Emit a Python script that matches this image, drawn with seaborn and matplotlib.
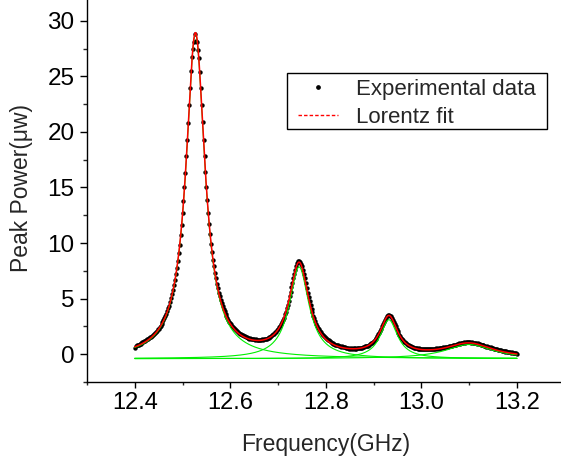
import numpy as np
import matplotlib
matplotlib.use("Agg")
import matplotlib.pyplot as plt
from matplotlib.lines import Line2D
from matplotlib.patches import Rectangle
from matplotlib.ticker import AutoMinorLocator, MultipleLocator
import seaborn as sns

# ---------------- data ----------------
freq_start, freq_stop = 12.4, 13.2          # GHz, sweep range of the measurement

power = [  # Peak Power (uW), experimental points, 0.002 GHz apart
    0.58, 0.72, 0.80, 0.86, 0.82, 0.93, 0.97, 0.95, 1.08, 1.06,
    1.17, 1.20, 1.24, 1.38, 1.36, 1.44, 1.52, 1.56, 1.66, 1.71,
    1.84, 1.90, 2.02, 2.09, 2.24, 2.31, 2.45, 2.58, 2.70, 2.86, 3.04,
    3.22, 3.40, 3.66, 3.85, 4.15, 4.38, 4.72, 5.02, 5.38, 5.80,
    6.20, 6.72, 7.22, 7.80, 8.40, 9.12, 9.86, 10.74, 11.62, 12.70,
    13.78, 15.05, 16.30, 17.80, 19.25, 20.80, 22.42, 23.95, 25.45, 26.75,
    27.45, 28.10, 28.85, 28.20, 28.10, 27.40, 26.65, 25.40, 23.95, 22.40,
    20.85, 19.30, 17.80, 16.42, 15.05, 13.85, 12.74, 11.72, 10.80, 9.95,
    9.20, 8.52, 7.90, 7.32, 6.82, 6.35, 5.94, 5.55, 5.20, 4.88,
    4.58, 4.32, 4.06, 3.85, 3.62, 3.44, 3.25, 3.10, 2.93, 2.80,
    2.68, 2.55, 2.45, 2.33, 2.26, 2.14, 2.09, 1.98, 1.94, 1.85,
    1.80, 1.72, 1.70, 1.63, 1.60, 1.54, 1.53, 1.47, 1.46, 1.41,
    1.42, 1.36, 1.37, 1.33, 1.35, 1.30, 1.33, 1.29, 1.32, 1.30,
    1.31, 1.29, 1.33, 1.30, 1.36, 1.35, 1.41, 1.40, 1.47, 1.48,
    1.56, 1.58, 1.66, 1.70, 1.80, 1.85, 1.97, 2.03, 2.17, 2.26,
    2.42, 2.54, 2.73, 2.88, 3.11, 3.30, 3.58, 3.82, 4.14, 4.44,
    4.80, 5.20, 5.58, 6.02, 6.42, 6.86, 7.25, 7.62, 7.95, 8.18,
    8.36, 8.38, 8.32, 8.16, 7.92, 7.60, 7.24, 6.82, 6.40, 5.97,
    5.55, 5.14, 4.76, 4.40, 4.06, 3.76, 3.47, 3.22, 2.98, 2.76,
    2.58, 2.40, 2.25, 2.08, 1.98, 1.84, 1.75, 1.62, 1.56, 1.44,
    1.40, 1.29, 1.26, 1.16, 1.13, 1.05, 1.03, 0.95, 0.94, 0.87,
    0.86, 0.80, 0.80, 0.74, 0.75, 0.69, 0.70, 0.65, 0.66, 0.62,
    0.60, 0.52, 0.57, 0.50, 0.55, 0.49, 0.54, 0.48, 0.53, 0.50,
    0.54, 0.50, 0.55, 0.52, 0.57, 0.55, 0.60, 0.58, 0.65, 0.63,
    0.70, 0.70, 0.76, 0.78, 0.85, 0.88, 0.97, 1.02, 1.11, 1.19,
    1.27, 1.36, 1.50, 1.61, 1.79, 1.92, 2.13, 2.30, 2.51, 2.70,
    2.92, 3.09, 3.27, 3.40, 3.50, 3.52, 3.48, 3.41, 3.27, 3.10,
    2.92, 2.71, 2.50, 2.30, 2.11, 1.93, 1.76, 1.61, 1.46, 1.34,
    1.24, 1.14, 1.06, 0.97, 0.92, 0.84, 0.80, 0.74, 0.72, 0.66,
    0.65, 0.59, 0.60, 0.54, 0.56, 0.50, 0.53, 0.47, 0.51, 0.45,
    0.49, 0.44, 0.48, 0.43, 0.47, 0.44, 0.49, 0.43, 0.48, 0.45,
    0.47, 0.44, 0.50, 0.46, 0.52, 0.49, 0.55, 0.50, 0.56, 0.53,
    0.58, 0.56, 0.61, 0.60, 0.65, 0.63, 0.69, 0.68, 0.73, 0.72,
    0.77, 0.77, 0.82, 0.82, 0.87, 0.87, 0.92, 0.92, 0.97, 0.96,
    1.01, 0.99, 1.05, 1.02, 1.08, 1.05, 1.10, 1.06, 1.12, 1.07,
    1.10, 1.05, 1.08, 1.03, 1.05, 0.99, 1.01, 0.95, 0.97, 0.91,
    0.92, 0.86, 0.87, 0.80, 0.81, 0.75, 0.76, 0.69, 0.71, 0.64,
    0.66, 0.59, 0.61, 0.54, 0.56, 0.48, 0.51, 0.44, 0.46, 0.39,
    0.42, 0.35, 0.37, 0.30, 0.33, 0.27, 0.30, 0.24, 0.27, 0.21,
    0.24, 0.18, 0.21, 0.15, 0.18, 0.12, 0.15, 0.09, 0.11, 0.06,
]

# Lorentz fit parameters (offset, centres, heights, half widths)
fit_offset = -0.40
peak_centers = [12.527, 12.744, 12.932, 13.100]
peak_heights = [29.2, 8.25, 3.5, 1.27]
peak_halfwidths = [0.024, 0.025, 0.022, 0.060]

x_ticks = [12.4, 12.6, 12.8, 13.0, 13.2]
y_ticks = [0, 5, 10, 15, 20, 25, 30]
x_label = "Frequency(GHz)"
y_label = "Peak Power(\u03bcw)"
legend_labels = ["Experimental data", "Lorentz fit"]

# ---------------- figure ----------------
sns.set_style("ticks")
plt.rcParams["font.family"] = ["Liberation Sans", "DejaVu Sans"]
plt.rcParams["font.size"] = 16

W, H = 561, 461
fig = plt.figure(figsize=(W / 100, H / 100), dpi=100)
ax_left, ax_right, ax_top, ax_bottom = 87, 564.7, -1.5, 382
ax = fig.add_axes([ax_left / W, 1 - ax_bottom / H,
                   (ax_right - ax_left) / W, (ax_bottom - ax_top) / H])

freq = np.linspace(freq_start, freq_stop, len(power))
sns.scatterplot(x=freq, y=power, ax=ax, color="black", s=10, linewidth=0,
                legend=False, zorder=2)

xf = np.linspace(freq_start, freq_stop, 1601)
total = np.full_like(xf, fit_offset)
for xc, a, w in zip(peak_centers, peak_heights, peak_halfwidths):
    comp = a * w ** 2 / ((xf - xc) ** 2 + w ** 2)
    total = total + comp
    sns.lineplot(x=xf, y=fit_offset + comp, ax=ax, color="#00ee00", lw=0.8,
                 sort=False, errorbar=None, zorder=3)
sns.lineplot(x=xf, y=total, ax=ax, color="#ff0000", lw=1.1, sort=False,
             errorbar=None, zorder=4)

ax.set_xlim(12.3, 13.3)
ax.set_ylim(-2.5, 32)
ax.set_xticks(x_ticks)
ax.set_xticklabels([f"{t:.1f}" for t in x_ticks])
ax.set_yticks(y_ticks)
ax.xaxis.set_minor_locator(MultipleLocator(0.1))
ax.yaxis.set_minor_locator(AutoMinorLocator(2))
sns.despine(ax=ax)
for s in ("left", "bottom"):
    ax.spines[s].set_linewidth(1.0)
    ax.spines[s].set_color("black")
ax.tick_params(axis="x", which="major", length=4, width=1, pad=3.5,
               labelsize=17, colors="black")
ax.tick_params(axis="x", which="minor", length=2.5, width=1)
ax.tick_params(axis="y", which="major", length=5, width=1, pad=4,
               labelsize=17.5, colors="black")
ax.tick_params(axis="y", which="minor", length=2.8, width=1)

ax.set_xlabel(x_label, fontsize=16.5, va="center")
ax.set_ylabel(y_label, fontsize=16.5, va="center")
ax.xaxis.set_label_coords(0.5, (ax_bottom - 444) / (ax_bottom - ax_top))
ax.yaxis.set_label_coords((22 - ax_left) / (ax_right - ax_left),
                          (ax_bottom - 188) / (ax_bottom - ax_top))

# legend: frame box drawn at the reference position, entries inside it
frame = Rectangle((287 / W, 1 - 129 / H), 260 / W, 56 / H,
                  transform=fig.transFigure, fill=True, facecolor="white",
                  edgecolor="black", lw=1.0, zorder=5, clip_on=False)
ax.add_artist(frame)
handles = [
    Line2D([], [], marker="o", ms=2.4, color="black", ls="none"),
    Line2D([], [], color="#ff0000", lw=1.0, ls=(0, (2.5, 1.5))),
]
leg = ax.legend(handles, legend_labels, loc="upper left",
                bbox_to_anchor=(298 / W, 1 - 79 / H),
                bbox_transform=fig.transFigure, fontsize=16,
                frameon=False, borderpad=0.0, labelspacing=0.3,
                handlelength=1.8, handletextpad=0.8, borderaxespad=0)
leg.set_zorder(6)

fig.savefig("out.png", dpi=100)
